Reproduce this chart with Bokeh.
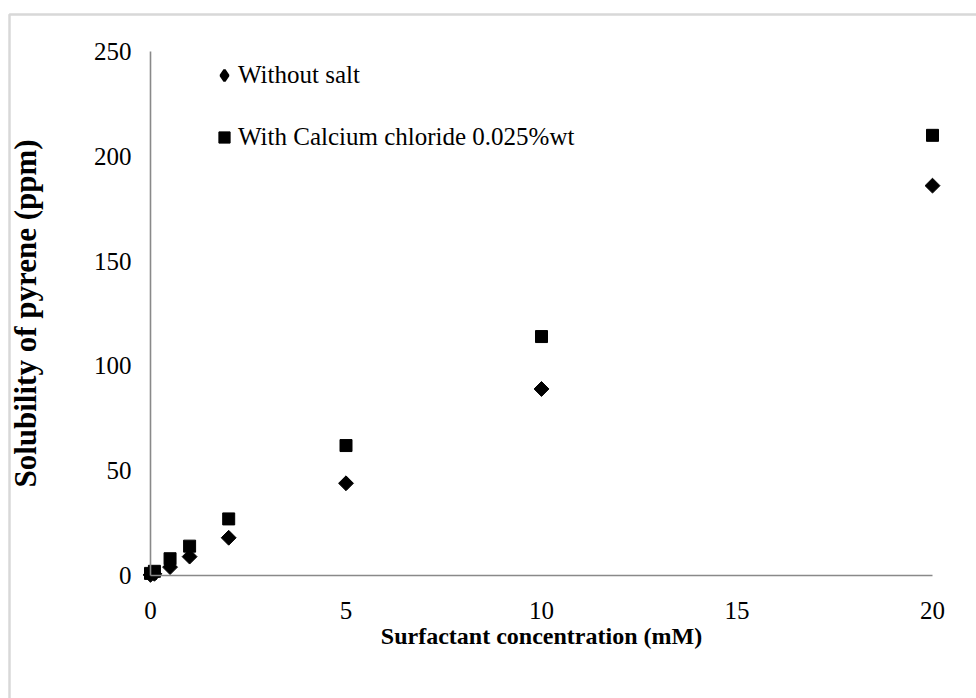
import math
import numpy as np
from bokeh.plotting import figure
from bokeh.models import (Range1d, Legend, LegendItem, BoxAnnotation, FixedTicker,
                          ColumnDataSource, LinearAxis)
from bokeh.embed import file_html
from bokeh.resources import INLINE

# ---- data ----
conc = [0, 0.1, 0.5, 1, 2, 5, 10, 20]
without_salt = [0.3, 0.8, 4.0, 9.0, 18.0, 44.0, 89.0, 186.0]
with_cacl2 = [1.0, 2.0, 8.0, 14.0, 27.0, 62.0, 114.0, 210.0]
x_ticks = [0, 5, 10, 15, 20]
y_ticks = [0, 50, 100, 150, 200, 250]
series_labels = ["Without salt", "With Calcium chloride 0.025%wt"]
x_title = "Surfactant concentration (mM)"
y_title = "Solubility of pyrene (ppm)"

FONT = "Liberation Serif"
AXIS_COLOR = "#898989"

W, H = 976, 698
# pixel placement of the axes (x: 0 -> 150px, 20 -> 932px; y: 0 -> 575px, 250 -> 51px)
x0_px, x1_px = 150.0, 932.0
y0_px, y1_px = 575.0, 51.0
sx = (x1_px - x0_px) / 20.0
sy = (y0_px - y1_px) / 250.0
x_start = -x0_px / sx
x_end = 20 + (W - x1_px) / sx
y_start = -(H - y0_px) / sy
y_end = 250 + y1_px / sy

p = figure(width=W, height=H,
           x_range=Range1d(x_start, x_end),
           y_range=Range1d(y_start, y_end),
           output_backend="svg", toolbar_location=None,
           x_axis_location=None, y_axis_location=None,
           min_border=0)
p.title.visible = False
p.outline_line_color = None
p.background_fill_color = "white"
p.border_fill_color = "white"
p.xgrid.visible = False
p.ygrid.visible = False

src = ColumnDataSource(dict(x=conc, a=without_salt, b=with_cacl2))

r_d = p.scatter("x", "a", source=src, marker="square", size=10.5, angle=math.pi / 4,
                fill_color="black", line_color="black")
r_s = p.scatter("x", "b", source=src, marker="square", size=12,
                fill_color="black", line_color="black")

# legend-only diamond glyph (not drawn in the plot)
leg_src = ColumnDataSource(dict(x=np.array([np.nan]), y=np.array([np.nan])))
r_leg = p.scatter("x", "y", source=leg_src, marker="diamond", size=12,
                  fill_color="black", line_color="black", line_width=2.5)

xaxis = LinearAxis()
yaxis = LinearAxis()
p.add_layout(xaxis, "below")
p.add_layout(yaxis, "left")

for ax, ticks in ((xaxis, x_ticks), (yaxis, y_ticks)):
    ax.ticker = FixedTicker(ticks=ticks)
    ax.fixed_location = 0
    ax.axis_line_color = AXIS_COLOR
    ax.axis_line_width = 1.6
    ax.major_tick_in = 0
    ax.major_tick_out = 0
    ax.minor_tick_in = 0
    ax.minor_tick_out = 0
    ax.major_label_text_font = FONT
    ax.major_label_text_font_size = "25px"
    ax.major_label_text_color = "black"
    ax.axis_label_text_font = FONT
    ax.axis_label_text_font_style = "bold"
    ax.axis_label_text_color = "black"

xaxis.bounds = (0, 20)
yaxis.bounds = (0, 250)
xaxis.axis_label = x_title
yaxis.axis_label = y_title
xaxis.axis_label_text_font_size = "24px"
yaxis.axis_label_text_font_size = "31px"
xaxis.major_label_standoff = 26
xaxis.axis_label_standoff = 1
yaxis.major_label_standoff = 19
yaxis.axis_label_standoff = 48

legend = Legend(items=[LegendItem(label=series_labels[0], renderers=[r_leg]),
                       LegendItem(label=series_labels[1], renderers=[r_s])],
                location=(210, 547))
legend.padding = 0
legend.margin = 0
legend.border_line_color = None
legend.background_fill_alpha = 0
legend.glyph_width = 28
legend.glyph_height = 28
legend.label_standoff = 0
legend.spacing = 34
legend.label_text_font = FONT
legend.label_text_font_size = "25px"
legend.label_text_color = "black"
p.add_layout(legend)

# outer chart border (grey frame around the whole chart)
border = BoxAnnotation(left=9, right=3000, top=14, bottom=3000,
                       left_units="canvas", right_units="canvas",
                       top_units="canvas", bottom_units="canvas",
                       fill_alpha=0, line_color="#7f7f7f", line_width=2.5)
p.add_layout(border)

open("out.html", "w").write(file_html(p, INLINE))
